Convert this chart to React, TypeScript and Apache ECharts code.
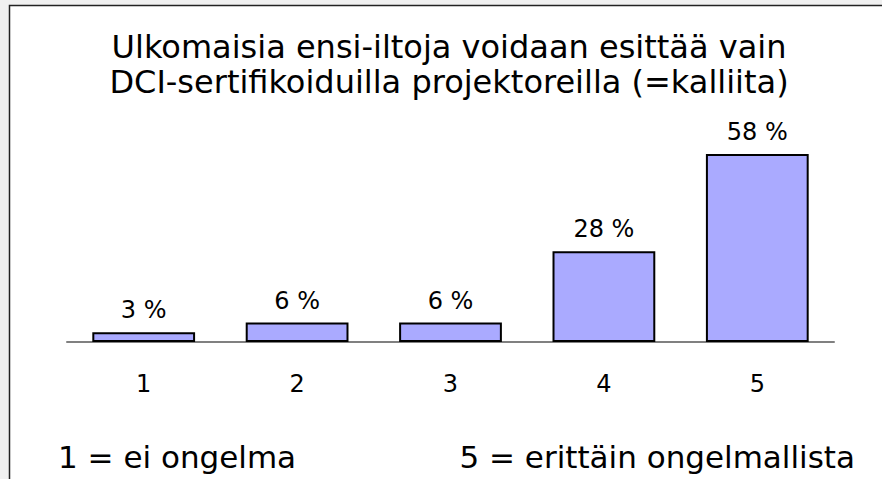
import React, { useEffect, useRef } from "react";
import * as echarts from "echarts";

const categories = ["1", "2", "3", "4", "5"];
const values = [3, 6, 6, 28, 58];
const titleLines = [
  "Ulkomaisia ensi-iltoja voidaan esittää vain",
  "DCI-sertifikoiduilla projektoreilla (=kalliita)",
];
const footLeft = "1 = ei ongelma";
const footRight = "5 = erittäin ongelmallista";

const FONT = "DejaVu Sans, Verdana, sans-serif";

export default function App() {
  const ref = useRef<HTMLDivElement>(null);
  useEffect(() => {
    document.body.style.margin = "0";
    const chart = echarts.init(ref.current!, null, { renderer: "svg" });
    chart.setOption({
      animation: false,
      backgroundColor: "#f0f0f0",
      graphic: [
        {
          type: "rect",
          z: -10,
          shape: { x: 9.5, y: 5.5, width: 900, height: 500 },
          style: { fill: "#ffffff", stroke: "#222222", lineWidth: 1.5 },
        },
        {
          type: "text",
          x: 449,
          y: 47,
          style: {
            text: titleLines[0],
            font: `32px ${FONT}`,
            fill: "#000",
            align: "center",
            verticalAlign: "middle",
          },
        },
        {
          type: "text",
          x: 449,
          y: 82,
          style: {
            text: titleLines[1],
            font: `32px ${FONT}`,
            fill: "#000",
            align: "center",
            verticalAlign: "middle",
          },
        },
        {
          type: "text",
          x: 58,
          y: 457,
          style: {
            text: footLeft,
            font: `31px ${FONT}`,
            fill: "#000",
            align: "left",
            verticalAlign: "middle",
          },
        },
        {
          type: "text",
          x: 855,
          y: 457,
          style: {
            text: footRight,
            font: `31px ${FONT}`,
            fill: "#000",
            align: "right",
            verticalAlign: "middle",
          },
        },
      ],
      grid: { left: 67, right: 48, top: 154, bottom: 137 },
      xAxis: {
        type: "category",
        data: categories,
        axisLine: { lineStyle: { color: "#808080", width: 2 } },
        axisTick: { show: false },
        axisLabel: {
          margin: 30,
          fontFamily: FONT,
          fontSize: 24,
          color: "#000",
        },
      },
      yAxis: {
        type: "value",
        min: 0,
        max: 58,
        show: false,
        splitLine: { show: false },
      },
      series: [
        {
          type: "bar",
          data: values,
          barWidth: "67%",
          itemStyle: { color: "#aaaaff", borderColor: "#000", borderWidth: 2 },
          label: {
            show: true,
            position: "top",
            distance: 10,
            formatter: "{c} %",
            fontFamily: FONT,
            fontSize: 24,
            color: "#000",
          },
        },
      ],
    });
    return () => chart.dispose();
  }, []);
  return (
    <div
      ref={ref}
      style={{ position: "fixed", left: 0, top: 0, width: 882, height: 479 }}
    />
  );
}
